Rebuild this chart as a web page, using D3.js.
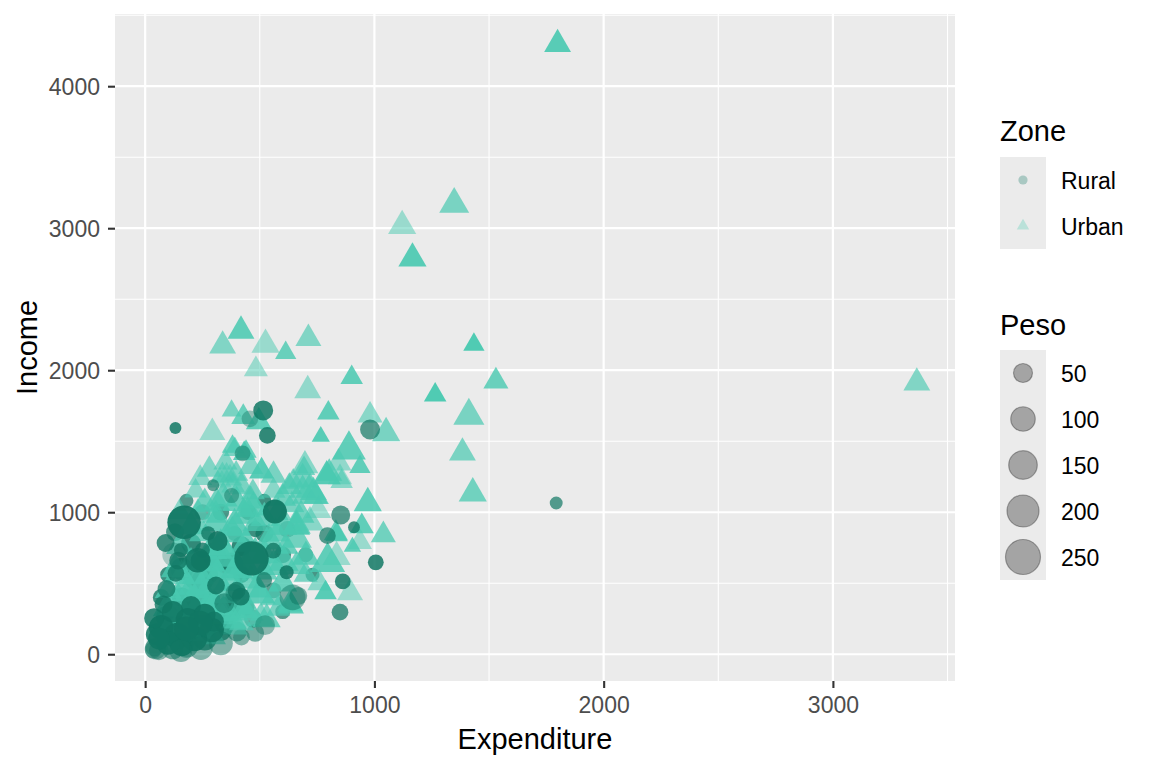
<!DOCTYPE html>
<html>
<head>
<meta charset="utf-8">
<script src="https://cdn.jsdelivr.net/npm/d3@7"></script>
<style>
  body { margin: 0; background: #fff; }
  text { font-family: "Liberation Sans", Arial, sans-serif; }
</style>
</head>
<body>
<svg id="chart" width="1152" height="768"></svg>
<script>
// Rural households: expenditure, income, weight (Peso), point alpha
var ruralExp = [132,1793,515,533,981,457,425,297,377,170,89,464,566,316,242,144,309,617,643,523,
  40,35,853,911,795,862,850,1006,668,93,399,559,156,127,519,275,250,229,134,389,
  70,140,215,290,100,60,330,243,156,39,185,345,417,120,200,260,80,300,240,180,
  110,50,350,400,180,260,120,60,330,440,230,160,70,290,470,380,210,100,280,350,
  420,600,560,390,330,480,700,620,730,520,180,250,45,100,270,160,330,200,480,420,
  320,360,270,160,250,420,380,300,200,520,130,600,450];
var ruralInc = [1593,1065,1717,1541,1583,1658,1415,1190,1117,929,783,675,1005,797,659,659,484,577,400,205,
  47,30,981,894,835,513,296,647,411,459,447,729,734,700,523,852,734,662,570,432,
  190,130,110,170,80,110,77,42,25,254,242,359,406,300,340,280,350,230,220,180,
  160,140,200,160,60,110,40,28,300,330,410,400,400,390,250,290,520,560,560,620,
  560,300,450,850,1000,880,700,880,560,1080,1080,1000,40,260,220,70,170,290,150,120,
  250,330,300,600,520,760,640,700,780,850,860,700,1000];
var ruralPeso = [15,18,57,35,57,35,30,15,26,225,42,240,94,57,57,42,42,22,115,57,
  42,35,50,15,35,30,35,30,42,42,42,30,22,94,30,22,26,100,35,42,
  100,120,110,100,90,70,94,90,80,57,94,57,42,70,57,70,42,57,100,100,
  100,70,42,57,94,94,70,57,42,35,42,57,35,35,42,42,35,30,42,30,
  35,26,30,26,35,30,26,35,22,22,22,30,70,94,94,90,70,80,42,35,
  80,70,94,80,70,57,70,94,57,42,42,35,30];
var ruralAlpha = [.85,.7,.85,.85,.7,.4,.5,.65,.5,.95,.8,.95,.95,.9,.9,.8,.85,.85,.5,.45,
  .45,.45,.7,.8,.7,.85,.75,.85,.55,.75,.8,.8,.8,.3,.7,.8,.8,.9,.8,.5,
  .95,.95,.95,.9,.9,.9,.5,.5,.5,.85,.9,.6,.85,.9,.85,.9,.8,.85,.95,.95,
  .9,.85,.7,.6,.6,.8,.6,.5,.8,.7,.75,.85,.8,.75,.6,.7,.8,.8,.7,.75,
  .8,.7,.65,.7,.75,.8,.7,.6,.75,.8,.7,.6,.5,.95,.9,.95,.8,.9,.55,.5,
  .9,.85,.9,.9,.85,.85,.8,.8,.85,.8,.7,.75,.8];

// Urban households
var urbanExp = [1799,3366,1348,1121,1166,418,338,525,613,712,483,709,901,1434,1530,1265,1412,1384,1429,377,
  428,496,293,799,981,1051,766,889,391,432,508,937,843,693,792,857,971,719,646,1039,
  945,937,904,796,835,835,894,787,636,697,734,755,850,440,687,687,803,629,745,308,
  447,658,570,483,832,316,701,614,311,290,661,603,719,246,268,341,413,486,530,632,
  115,159,384,243,403,432,345,265,141,112,505,185,389,381,337,370,397,312,399,472,
  661,355,326,384,220,560,580,640,250,380,440,520,360,200,440,520,300,200,330,560,
  460,380,280,200,140,700,760,580,420,160,230,470,
  180,230,280,330,390,430,340,260,200,150,130,100,90,170,250,310,400,480,540,600,
  500,450,380,300,220,300,600,660,560,520,460,420,280,240,560,600,150,350,460,680];
var urbanInc = [4295,1911,3169,3016,2787,2277,2173,2180,2122,2223,2006,1858,1948,2181,1922,1826,1680,1418,1133,1715,
  1670,1637,1562,1699,1682,1557,1534,1440,1442,1414,1289,1320,1346,1308,1254,1216,1065,1134,1214,840,
  900,790,757,650,685,842,433,433,340,1329,1141,1012,1246,1427,1234,1157,1275,1180,1110,981,
  1016,899,852,922,852,734,687,758,929,734,812,649,929,459,318,294,341,459,247,353,
  318,552,577,476,453,312,265,312,335,218,254,430,194,1462,1260,1240,1270,1068,1068,1035,
  906,1256,1223,1188,1150,1150,1000,1050,850,850,780,700,680,640,620,580,600,380,420,400,
  520,500,160,230,420,560,500,320,220,180,1000,1140,
  480,560,650,760,900,980,1100,1060,900,760,600,450,320,280,380,520,600,700,800,900,
  420,300,240,340,150,120,500,620,620,960,1080,1180,1300,1240,1260,1100,1000,1350,1320,980];
var urbanPeso = [57,57,77,65,65,57,57,65,30,52,42,57,35,30,47,35,85,57,65,25,
  42,52,52,35,47,65,20,106,35,35,47,30,52,35,65,35,65,127,42,47,
  42,42,18,117,65,35,52,35,52,57,57,52,42,30,65,57,52,47,52,57,
  42,65,65,57,42,80,65,47,85,85,80,80,65,85,85,80,70,70,65,52,
  57,65,65,57,57,65,57,52,42,47,65,52,57,30,42,47,42,57,70,65,
  65,42,42,42,35,42,57,47,57,80,70,70,85,65,70,57,80,57,70,57,
  65,57,47,52,42,42,42,42,47,42,42,42,
  80,94,94,85,94,80,70,65,57,57,65,57,52,65,94,100,94,85,80,70,
  85,80,70,85,52,42,70,57,80,65,57,52,47,42,52,57,42,42,47,57];
var urbanAlpha = [.9,.65,.7,.5,.9,.85,.65,.5,.8,.65,.5,.55,.85,.95,.8,.95,.7,.7,.75,.7,
  .8,.85,.5,.85,.6,.7,.9,.85,.7,.85,.9,.85,.55,.7,.9,.6,.85,.75,.7,.75,
  .85,.5,.85,.85,.5,.85,.5,.9,.85,.6,.8,.5,.5,.8,.7,.75,.8,.8,.7,.75,
  .8,.85,.8,.75,.8,.85,.8,.8,.8,.8,.75,.75,.6,.8,.75,.8,.75,.8,.75,.8,
  .75,.7,.75,.7,.7,.8,.7,.75,.7,.75,.7,.75,.5,.8,.6,.55,.7,.75,.8,.8,
  .8,.55,.5,.6,.6,.6,.7,.7,.75,.8,.8,.75,.8,.75,.8,.75,.8,.8,.8,.7,
  .75,.75,.6,.7,.7,.7,.6,.7,.7,.6,.6,.7,
  .85,.85,.85,.8,.85,.8,.8,.75,.75,.75,.8,.8,.8,.8,.85,.85,.85,.8,.8,.8,
  .85,.8,.75,.8,.7,.65,.8,.75,.8,.8,.75,.7,.65,.6,.7,.75,.6,.65,.7,.75];

var zones = ["Rural","Urban"];
var zoneColors = ["#117864","#48C9B0"];
var xTicks = [0,1000,2000,3000];
var yTicks = [0,1000,2000,3000,4000];
var pesoBreaks = [50,100,150,200,250];

var svg = d3.select("#chart");
var panelLeft = 115, panelTop = 14, panelRight = 955, panelBottom = 681;

// drawing order: later rural rows sit under the triangles, the first 60 rural rows on top
var ruralTop = 60;
function ruralPoint(i){ return {zone:"Rural", x:ruralExp[i], y:ruralInc[i], peso:ruralPeso[i], a:ruralAlpha[i]}; }
var points = [];
for (var i = ruralTop; i < ruralExp.length; i++) points.push(ruralPoint(i));
urbanExp.forEach(function(v, i){
  points.push({zone:"Urban", x:v, y:urbanInc[i], peso:urbanPeso[i], a:urbanAlpha[i]});
});
for (var j = 0; j < ruralTop; j++) points.push(ruralPoint(j));

function expand(ext){
  var pad = (ext[1]-ext[0])*0.05;
  return [ext[0]-pad, ext[1]+pad];
}
var x = d3.scaleLinear()
  .domain(expand(d3.extent(points, function(d){ return d.x; })))
  .range([panelLeft, panelRight]);
var y = d3.scaleLinear()
  .domain(expand(d3.extent(points, function(d){ return d.y; })))
  .range([panelBottom, panelTop]);

var minPeso = 10;
var rScale = d3.scaleSqrt().domain([0, 250-minPeso]).range([4, 17.5]);
function radius(p){ return rScale(Math.max(p-minPeso,0)); }
var color = d3.scaleOrdinal().domain(zones).range(zoneColors);

// panel
svg.append("rect")
  .attr("x", panelLeft).attr("y", panelTop)
  .attr("width", panelRight-panelLeft).attr("height", panelBottom-panelTop)
  .attr("fill", "#ebebeb");

var grid = svg.append("g");
var xMinor = [500,1500,2500,3500], yMinor = [500,1500,2500,3500,4500];
xMinor.forEach(function(v){
  if (x(v) < panelRight) grid.append("line").attr("x1",x(v)).attr("x2",x(v))
    .attr("y1",panelTop).attr("y2",panelBottom).attr("stroke","#fff").attr("stroke-width",1.1);
});
yMinor.forEach(function(v){
  if (y(v) > panelTop) grid.append("line").attr("y1",y(v)).attr("y2",y(v))
    .attr("x1",panelLeft).attr("x2",panelRight).attr("stroke","#fff").attr("stroke-width",1.1);
});
xTicks.forEach(function(v){
  grid.append("line").attr("x1",x(v)).attr("x2",x(v))
    .attr("y1",panelTop).attr("y2",panelBottom).attr("stroke","#fff").attr("stroke-width",2.2);
});
yTicks.forEach(function(v){
  grid.append("line").attr("y1",y(v)).attr("y2",y(v))
    .attr("x1",panelLeft).attr("x2",panelRight).attr("stroke","#fff").attr("stroke-width",2.2);
});

// points
var sym = d3.symbol();
svg.append("g").selectAll("path")
  .data(points)
  .enter()
  .append("path")
  .attr("transform", function(d){ return "translate(" + x(d.x) + "," + y(d.y) + ")"; })
  .attr("d", function(d){
    var r = radius(d.peso);
    return sym.type(d.zone == "Rural" ? d3.symbolCircle : d3.symbolTriangle).size(Math.PI*r*r)();
  })
  .attr("fill", function(d){ return color(d.zone); })
  .attr("fill-opacity", function(d){ return d.a; });

// axes
var xAxis = d3.axisBottom(x).tickValues(xTicks).tickSize(7).tickPadding(6).tickFormat(d3.format("d"));
var yAxis = d3.axisLeft(y).tickValues(yTicks).tickSize(7).tickPadding(6).tickFormat(d3.format("d"));

var gx = svg.append("g").attr("transform", "translate(0," + panelBottom + ")").call(xAxis);
var gy = svg.append("g").attr("transform", "translate(" + panelLeft + ",0)").call(yAxis);
[gx, gy].forEach(function(g){
  g.select(".domain").remove();
  g.selectAll(".tick line").attr("stroke", "#333333").attr("stroke-width", 2.1);
  g.selectAll(".tick text").attr("fill", "#4d4d4d")
    .style("font-size", "23px").style("font-family", "Liberation Sans, Arial, sans-serif");
});
gx.selectAll(".tick text").attr("dy", null).attr("y", 32);
gy.selectAll(".tick text").attr("dy", "0.35em").attr("x", -15);

svg.append("text")
  .attr("x", (panelLeft+panelRight)/2).attr("y", 749)
  .attr("text-anchor", "middle").style("font-size", "29px")
  .text("Expenditure");
svg.append("text")
  .attr("transform", "translate(37," + (panelTop+panelBottom)/2 + ") rotate(-90)")
  .attr("text-anchor", "middle").style("font-size", "29px")
  .text("Income");

// legend: Zone
var legX = 1000, keyW = 46, keyH = 46;
var zl = svg.append("g");
zl.append("text").attr("x", legX).attr("y", 141).style("font-size", "29px").text("Zone");
zones.forEach(function(z, i){
  var cy = 157 + keyH*i + keyH/2;
  zl.append("rect").attr("x", legX).attr("y", 157 + keyH*i)
    .attr("width", keyW).attr("height", keyH).attr("fill", "#ebebeb");
  zl.append("path")
    .attr("transform", "translate(" + (legX+keyW/2) + "," + cy + ")")
    .attr("d", d3.symbol().type(z == "Rural" ? d3.symbolCircle : d3.symbolTriangle).size(Math.PI*4.6*4.6)())
    .attr("fill", color(z)).attr("fill-opacity", 0.3);
  zl.append("text").attr("x", 1061).attr("y", cy + 9)
    .style("font-size", "23px").text(z);
});

// legend: Peso
var pl = svg.append("g");
pl.append("text").attr("x", legX).attr("y", 335).style("font-size", "29px").text("Peso");
pesoBreaks.forEach(function(p, i){
  var cy = 350 + keyH*i + keyH/2;
  pl.append("rect").attr("x", legX).attr("y", 350 + keyH*i)
    .attr("width", keyW).attr("height", keyH).attr("fill", "#ebebeb");
  pl.append("circle")
    .attr("cx", legX+keyW/2).attr("cy", cy).attr("r", radius(p))
    .attr("fill", "black").attr("fill-opacity", 0.3)
    .attr("stroke", "black").attr("stroke-opacity", 0.3).attr("stroke-width", 1.2);
  pl.append("text").attr("x", 1061).attr("y", cy + 9)
    .style("font-size", "23px").text(p);
});
</script>
</body>
</html>
